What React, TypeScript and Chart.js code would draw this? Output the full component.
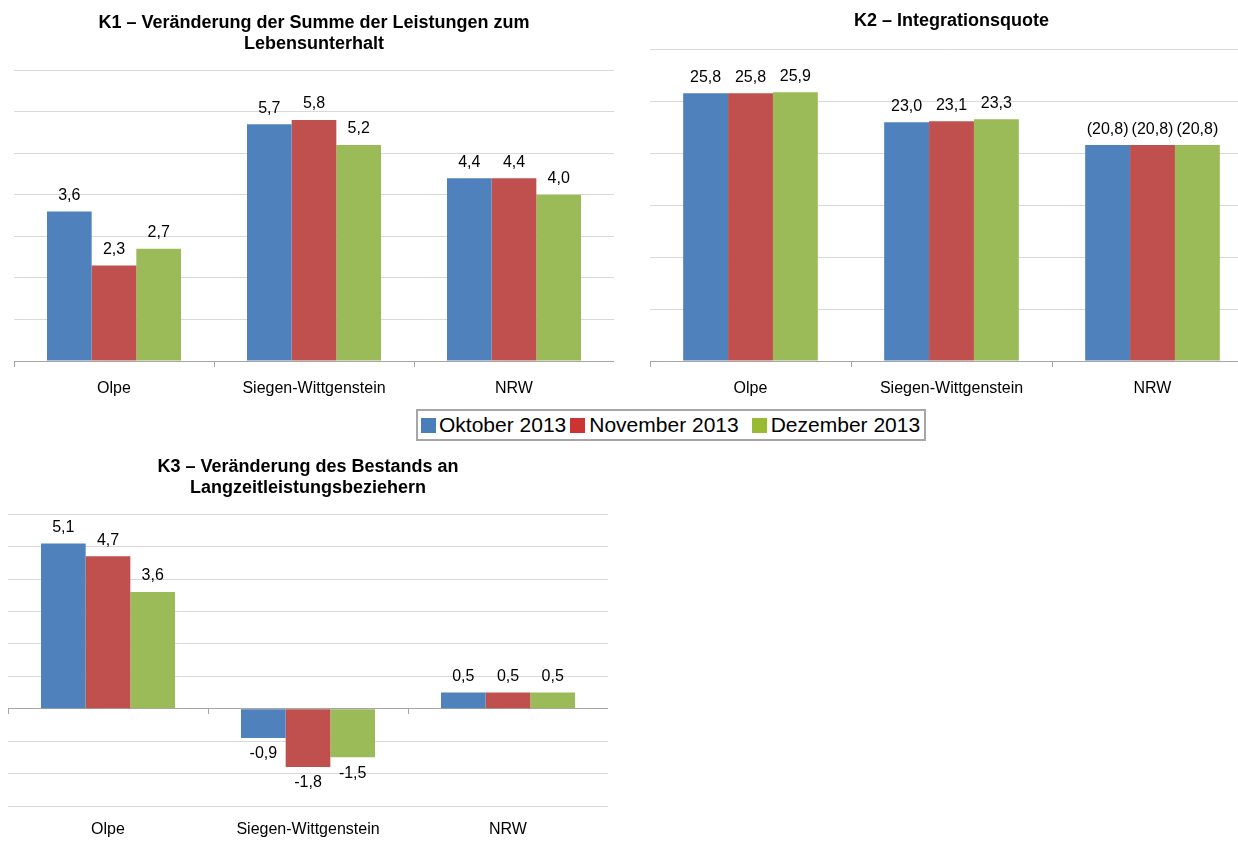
import React, { useEffect, useRef } from "react";
import { Chart, registerables } from "chart.js";

Chart.register(...registerables);

const categories = ["Olpe", "Siegen-Wittgenstein", "NRW"];
const seriesNames = ["Oktober 2013", "November 2013", "Dezember 2013"];
const barColors = ["#4F81BD", "#C0504D", "#9BBB59"];
const legendColors = ["#4A7EBB", "#CC3333", "#99BB33"];

const k1Oktober = [3.6, 5.7, 4.4];
const k1November = [2.3, 5.8, 4.4];
const k1Dezember = [2.7, 5.2, 4.0];

const k2Oktober = [25.8, 23.0, 20.8];
const k2November = [25.8, 23.1, 20.8];
const k2Dezember = [25.9, 23.3, 20.8];
const k2Bracketed = [false, false, true];

const k3Oktober = [5.1, -0.9, 0.5];
const k3November = [4.7, -1.8, 0.5];
const k3Dezember = [3.6, -1.5, 0.5];

const FONT = '"Liberation Sans", Arial, sans-serif';
const GRID = "#D9D9D9";
const AXIS = "#A6A6A6";

const fmt = (v: number) => v.toFixed(1).replace(".", ",");

const valueLabels = {
  id: "valueLabels",
  afterDatasetsDraw(chart: any, _args: any, opts: any) {
    const ctx = chart.ctx;
    ctx.save();
    ctx.font = `16px ${FONT}`;
    ctx.fillStyle = "#000";
    ctx.textAlign = "center";
    ctx.textBaseline = "middle";
    chart.data.datasets.forEach((ds: any, di: number) => {
      const meta = chart.getDatasetMeta(di);
      meta.data.forEach((el: any, i: number) => {
        const v = ds.data[i];
        let s = fmt(v);
        if (opts && opts.bracketed && opts.bracketed[i]) s = `(${s})`;
        const y = v >= 0 ? el.y - 16 : el.y + 16;
        ctx.fillText(s, el.x, y);
      });
    });
    ctx.restore();
  },
};

type Props = {
  left: number;
  top: number;
  width: number;
  height: number;
  title: string[];
  series: number[][];
  min: number;
  max: number;
  step: number;
  yWidth: number;
  xHeight: number;
  titlePadTop: number;
  titlePadBottom: number;
  bracketed?: boolean[];
  zeroAxis?: boolean;
};

function BarChart(p: Props) {
  const ref = useRef<HTMLCanvasElement>(null);
  useEffect(() => {
    if (!ref.current) return;
    const scales: any = {
      x: {
        type: "category",
        position: "bottom",
        grid: {
          offset: true,
          drawOnChartArea: false,
          drawTicks: !p.zeroAxis,
          tickLength: 6,
          color: AXIS,
        },
        border: { display: !p.zeroAxis, color: AXIS, width: 1 },
        ticks: {
          color: "#000",
          font: { family: FONT, size: 16 },
          padding: p.zeroAxis ? 14 : 12,
          maxRotation: 0,
          autoSkip: false,
        },
        afterFit: (axis: any) => {
          axis.height = p.xHeight;
        },
      },
      y: {
        min: p.min,
        max: p.max,
        ticks: { display: false, stepSize: p.step },
        border: { display: false },
        grid: {
          drawTicks: false,
          color: (c: any) =>
            p.zeroAxis && c.tick && c.tick.value === 0 ? AXIS : GRID,
        },
        afterFit: (axis: any) => {
          axis.width = p.yWidth;
        },
      },
    };
    if (p.zeroAxis) {
      scales.x0 = {
        type: "category",
        position: { y: 0 },
        grid: {
          offset: true,
          drawOnChartArea: false,
          drawTicks: true,
          tickLength: 5,
          color: AXIS,
        },
        border: { display: true, color: AXIS },
        ticks: { display: false },
      };
    }
    const chart = new Chart(ref.current, {
      type: "bar",
      data: {
        labels: categories,
        datasets: p.series.map((d, i) => ({
          label: seriesNames[i],
          data: d,
          backgroundColor: barColors[i],
          borderWidth: 0,
          categoryPercentage: 0.67,
          barPercentage: 1,
        })),
      },
      options: {
        responsive: false,
        maintainAspectRatio: false,
        animation: false,
        devicePixelRatio: 1,
        layout: { padding: 0 },
        scales,
        plugins: {
          legend: { display: false },
          tooltip: { enabled: false },
          title: {
            display: true,
            text: p.title,
            fullSize: false,
            color: "#000",
            font: { family: FONT, size: 18, weight: "bold", lineHeight: 1.2 },
            padding: { top: p.titlePadTop, bottom: p.titlePadBottom },
          },
          valueLabels: { bracketed: p.bracketed },
        } as any,
      },
      plugins: [valueLabels as any],
    });
    return () => chart.destroy();
  }, []);
  return (
    <canvas
      ref={ref}
      width={p.width}
      height={p.height}
      style={{
        position: "absolute",
        left: p.left,
        top: p.top,
        width: p.width,
        height: p.height,
      }}
    />
  );
}

const legendGapBefore = [3, 4, 13];
const legendGapAfterSwatch = [3, 4, 4];

function Legend() {
  return (
    <div
      style={{
        position: "absolute",
        left: 416,
        top: 409,
        width: 506,
        height: 28,
        border: "2px solid #A6A6A6",
        display: "flex",
        alignItems: "center",
        fontFamily: FONT,
        fontSize: 21,
        color: "#000",
        whiteSpace: "nowrap",
        background: "#fff",
      }}
    >
      {seriesNames.map((n, i) => (
        <span
          key={n}
          style={{
            display: "flex",
            alignItems: "center",
            marginLeft: legendGapBefore[i],
          }}
        >
          <span
            style={{
              display: "inline-block",
              width: 15,
              height: 15,
              background: legendColors[i],
              marginRight: legendGapAfterSwatch[i],
            }}
          />
          {n}
        </span>
      ))}
    </div>
  );
}

export default function App() {
  return (
    <div
      style={{
        position: "fixed",
        left: 0,
        top: 0,
        width: 1238,
        height: 841,
        background: "#fff",
        overflow: "hidden",
      }}
    >
      <BarChart
        left={0}
        top={0}
        width={614}
        height={405}
        title={["K1 – Veränderung der Summe der Leistungen zum", "Lebensunterhalt"]}
        series={[k1Oktober, k1November, k1Dezember]}
        min={0}
        max={7}
        step={1}
        yWidth={14}
        xHeight={44}
        titlePadTop={12}
        titlePadBottom={15}
      />
      <BarChart
        left={650}
        top={0}
        width={603}
        height={405}
        title={["K2 – Integrationsquote"]}
        series={[k2Oktober, k2November, k2Dezember]}
        min={0}
        max={30}
        step={5}
        yWidth={0}
        xHeight={44}
        titlePadTop={10}
        titlePadBottom={18}
        bracketed={k2Bracketed}
      />
      <Legend />
      <BarChart
        left={0}
        top={444}
        width={608}
        height={397}
        title={["K3 – Veränderung des Bestands an", "Langzeitleistungsbeziehern"]}
        series={[k3Oktober, k3November, k3Dezember]}
        min={-3}
        max={6}
        step={1}
        yWidth={8}
        xHeight={35}
        titlePadTop={12}
        titlePadBottom={15}
        zeroAxis
      />
    </div>
  );
}
